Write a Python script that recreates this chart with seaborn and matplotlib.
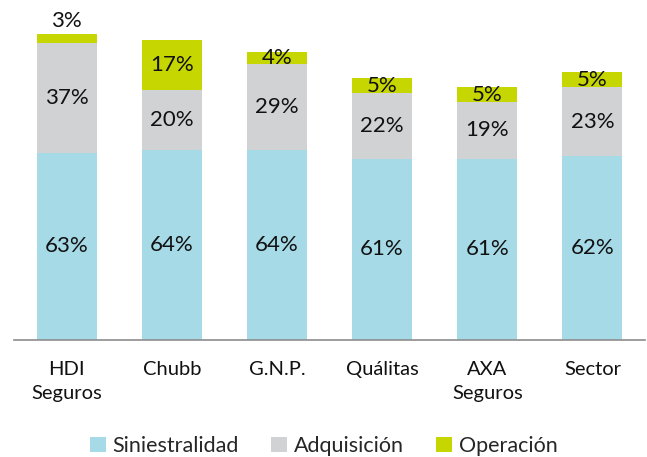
import numpy as np
import pandas as pd
import matplotlib
matplotlib.use("Agg")
import matplotlib.pyplot as plt
from matplotlib.patches import Patch
import seaborn as sns

# --- Datos ---
categorias = ["HDI\nSeguros", "Chubb", "G.N.P.", "Quálitas", "AXA\nSeguros", "Sector"]
siniestralidad = [63, 64, 64, 61, 61, 62]
adquisicion = [37, 20, 29, 22, 19, 23]
operacion = [3, 17, 4, 5, 5, 5]

series = ["Siniestralidad", "Adquisición", "Operación"]
colores = ["#A6DAE7", "#D1D2D4", "#C6D600"]

sns.set_theme(style="white")
plt.rcParams["font.family"] = ["Lato", "DejaVu Sans"]

df = pd.DataFrame({
    "categoria": categorias,
    "Siniestralidad": siniestralidad,
    "Adquisición": adquisicion,
    "Operación": operacion,
})
# acumulados para apilar (se dibuja de arriba hacia abajo)
df["c1"] = df["Siniestralidad"]
df["c2"] = df["c1"] + df["Adquisición"]
df["c3"] = df["c2"] + df["Operación"]

fig = plt.figure(figsize=(6.47, 4.57), dpi=100)
ax = fig.add_axes([14 / 647, (457 - 340) / 457, 631 / 647, 327 / 457])

for col, color in zip(["c3", "c2", "c1"], colores[::-1]):
    sns.barplot(data=df, x="categoria", y=col, color=color, width=0.57,
                linewidth=0, saturation=1, ax=ax)

ax.set_xlim(-0.5, 5.5)
ax.set_ylim(0, 110)

# --- Etiquetas ---
fs = 16
for i, row in df.iterrows():
    ax.text(i, row["c1"] / 2, f"{row['Siniestralidad']}%", ha="center", va="center", fontsize=fs, color="#111111")
    ax.text(i, (row["c1"] + row["c2"]) / 2, f"{row['Adquisición']}%", ha="center", va="center", fontsize=fs, color="#111111")
    if row["Operación"] < 4:
        ax.text(i, row["c3"] + 1, f"{row['Operación']}%", ha="center", va="bottom", fontsize=fs, color="#111111")
    else:
        ax.text(i, (row["c2"] + row["c3"]) / 2, f"{row['Operación']}%", ha="center", va="center", fontsize=fs, color="#111111")

sns.despine(ax=ax, left=True, top=True, right=True)
ax.spines["bottom"].set_color("#8C8C8C")
ax.spines["bottom"].set_linewidth(1.2)
ax.set_yticks([])
ax.set_xlabel("")
ax.set_ylabel("")
ax.tick_params(axis="x", length=0, pad=15, labelsize=14.5, colors="#111111")
for lbl in ax.get_xticklabels():
    lbl.set_linespacing(1.5)

handles = [Patch(facecolor=c, edgecolor="none", label=s) for s, c in zip(series, colores)]
fig.legend(handles=handles, loc="center", bbox_to_anchor=(0.5, 11 / 457), ncol=3,
           frameon=False, fontsize=15.5, handlelength=0.75, handleheight=0.75,
           handletextpad=0.3, columnspacing=1.5)

fig.savefig("out.png", dpi=100)
